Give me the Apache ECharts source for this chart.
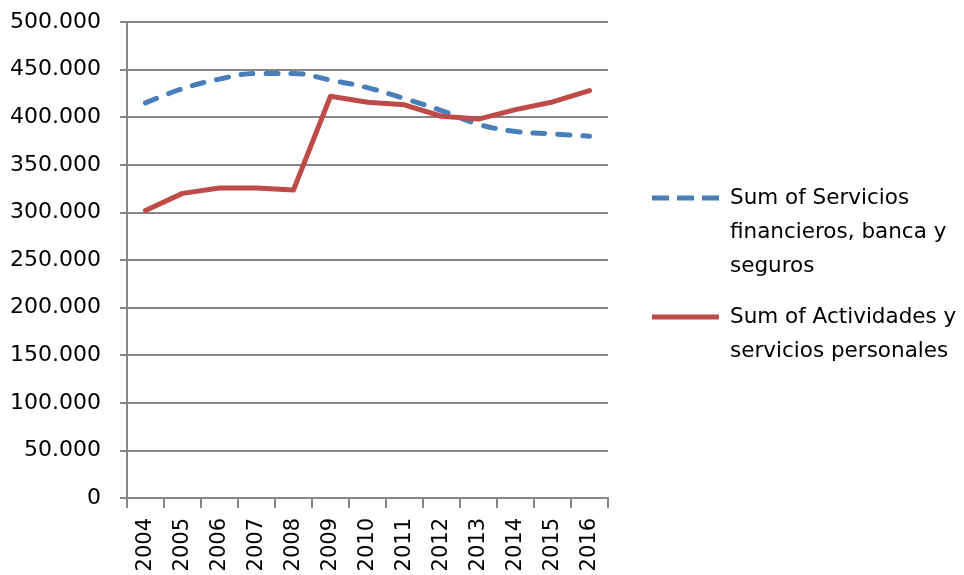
<!DOCTYPE html>
<html>
<head>
<meta charset="utf-8">
<script src="https://cdn.jsdelivr.net/npm/echarts@6/dist/echarts.min.js"></script>
<style>
  html, body { margin: 0; padding: 0; background: #fff; }
  #chart { width: 964px; height: 575px; }
</style>
</head>
<body>
<div id="chart"></div>
<script>
const years = ['2004', '2005', '2006', '2007', '2008', '2009', '2010', '2011', '2012', '2013', '2014', '2015', '2016']
const financieros = [415000, 430000, 440000, 446000, 446000, 439000, 431000, 419500, 407000, 392500, 385000, 382500, 380000]
const personales = [302000, 320000, 325600, 325600, 323500, 422000, 415700, 413000, 401000, 398000, 408000, 416000, 428000]
const name1 = 'Sum of Servicios\nfinancieros, banca y\nseguros'
const name2 = 'Sum of Actividades y\nservicios personales'

const font = 'DejaVu Sans'
const grey = '#868686'
const blue = '#4A7EBB'
const red = '#BE4B48'

// legend icons: dashed and solid strokes
const dashIcon = 'path://M0,0h17v5h-17zM25,0h17v5h-17zM50,0h17v5h-17z'
const solidIcon = 'path://M0,0h67v5h-67z'

const myChart = echarts.init(document.getElementById('chart'))

// blank lines on top so the icon sits next to the first line of text
function legendText(name) {
  const lines = name.split('\n').length
  return '\n'.repeat(lines - 1) + name
}

const legendBase = {
  orient: 'vertical',
  left: 647,
  itemWidth: 67,
  itemHeight: 5,
  formatter: legendText,
  textStyle: { fontFamily: font, fontSize: 21.5, color: '#000', lineHeight: 34, padding: [0, 0, 0, 6] }
}

const option = {
  animation: false,
  grid: { left: 127, right: 356, top: 22, bottom: 77 },
  legend: [
    Object.assign({}, legendBase, {
      data: [{ name: name1, icon: dashIcon, itemStyle: { color: blue } }],
      top: 108
    }),
    Object.assign({}, legendBase, {
      data: [{ name: name2, icon: solidIcon, itemStyle: { color: red } }],
      top: 261
    })
  ],
  xAxis: {
    type: 'category',
    data: years,
    boundaryGap: true,
    axisLine: { lineStyle: { color: grey, width: 2 } },
    axisTick: { show: true, length: 10, lineStyle: { color: grey, width: 2 } },
    axisLabel: { rotate: 90, margin: 20, fontFamily: font, fontSize: 21, color: '#000' },
    splitLine: { show: false }
  },
  yAxis: {
    type: 'value',
    min: 0,
    max: 500000,
    interval: 50000,
    axisLine: { show: true, lineStyle: { color: grey, width: 2 } },
    axisTick: { show: true, length: 7, lineStyle: { color: grey, width: 2 } },
    axisLabel: {
      margin: 26,
      fontFamily: font,
      fontSize: 22,
      color: '#000',
      formatter: function (v) {
        if (v === 0) return '0'
        return (v / 1000).toFixed(0) + '.000'
      }
    },
    splitLine: { show: true, lineStyle: { color: grey, width: 2 } }
  },
  series: [
    {
      name: name1,
      type: 'line',
      data: financieros,
      smooth: 0.4,
      symbol: 'none',
      lineStyle: { color: blue, width: 5, type: [12, 13], cap: 'round', join: 'round' },
      itemStyle: { color: blue }
    },
    {
      name: name2,
      type: 'line',
      data: personales,
      symbol: 'none',
      lineStyle: { color: red, width: 5, cap: 'round', join: 'round' },
      itemStyle: { color: red }
    }
  ]
}

option && myChart.setOption(option)
</script>
</body>
</html>
